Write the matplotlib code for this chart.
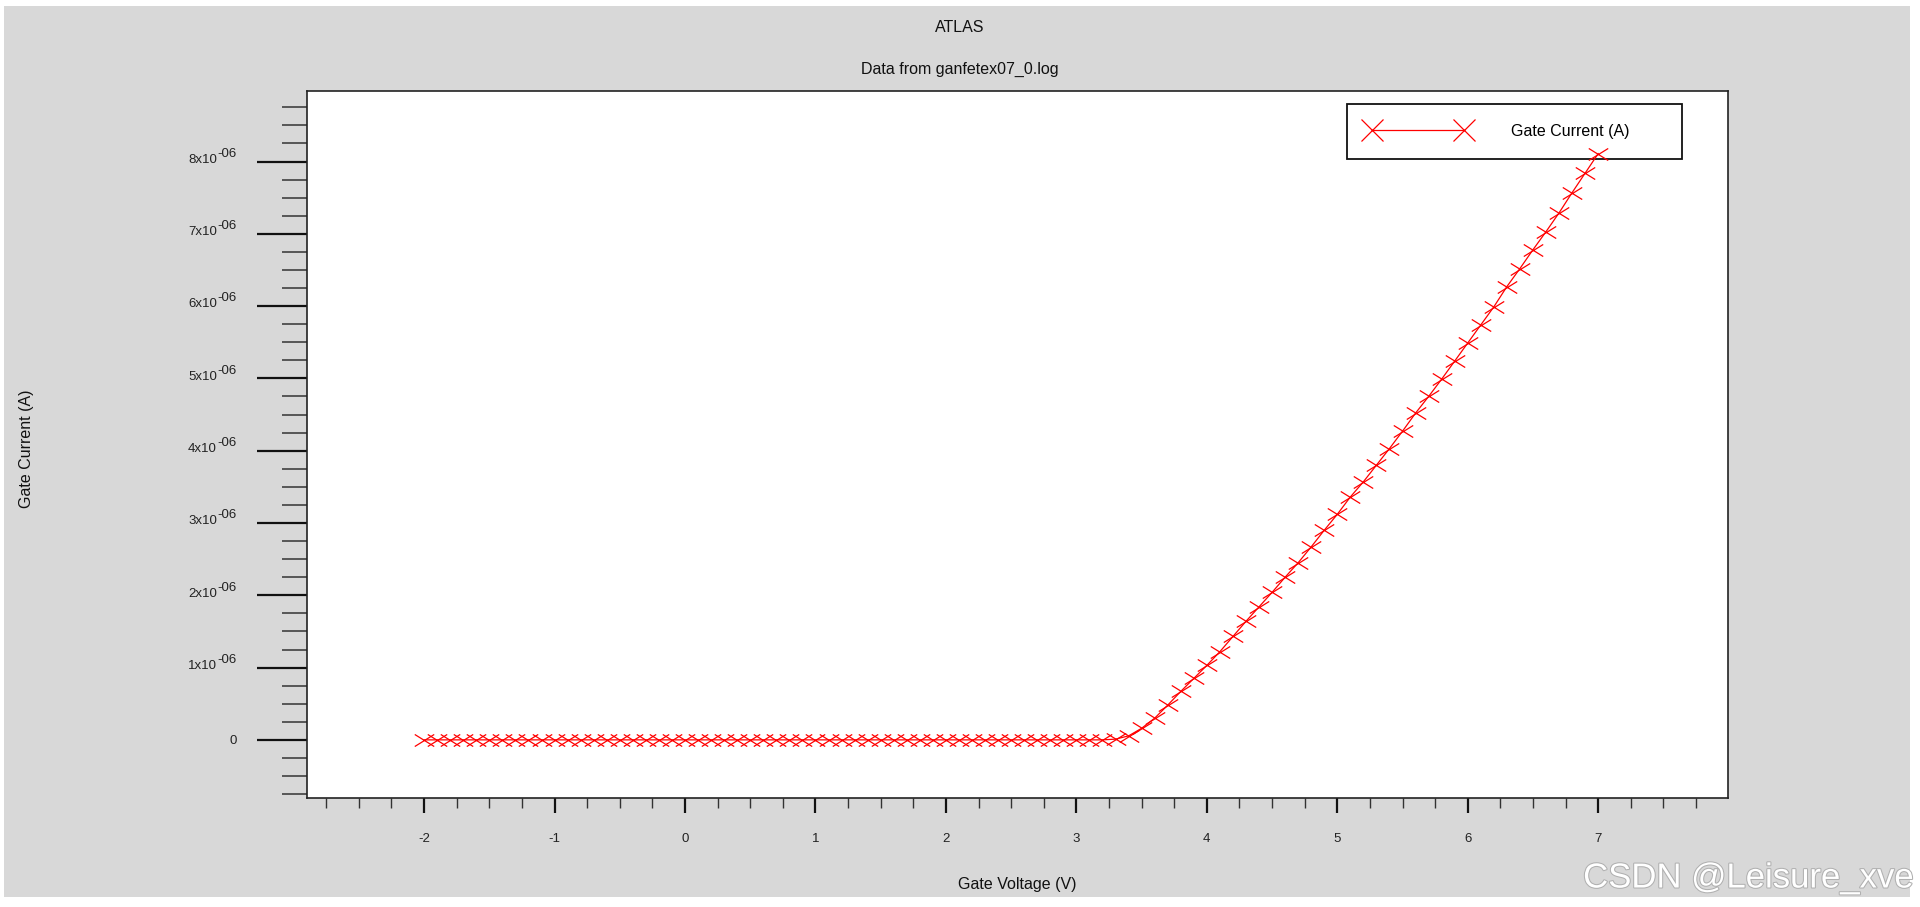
#!/usr/bin/env python

import numpy as np
import matplotlib
matplotlib.use("Agg")
import matplotlib.pyplot as plt
from matplotlib.path import Path
from matplotlib.lines import Line2D
from matplotlib.patches import Rectangle
from matplotlib.ticker import MultipleLocator, NullFormatter
import matplotlib.patheffects as pe

plt.rcParams['font.family'] = ['Liberation Sans', 'DejaVu Sans']
plt.rcParams['axes.unicode_minus'] = False

### gate sweep (V) and gate current (uA)
vg = np.round(np.linspace(-2.0, 7.0, 91), 1)
ig_ua = [
    0.0, 0.0, 0.0, 0.0, 0.0, 0.0, 0.0, 0.0, 0.0, 0.0,   # -2.0 .. -1.1
    0.0, 0.0, 0.0, 0.0, 0.0, 0.0, 0.0, 0.0, 0.0, 0.0,   # -1.0 .. -0.1
    0.0, 0.0, 0.0, 0.0, 0.0, 0.0, 0.0, 0.0, 0.0, 0.0,   #  0.0 ..  0.9
    0.0, 0.0, 0.0, 0.0, 0.0, 0.0, 0.0, 0.0, 0.0, 0.0,   #  1.0 ..  1.9
    0.0, 0.0, 0.0, 0.0, 0.0, 0.0, 0.0, 0.0, 0.0, 0.0,   #  2.0 ..  2.9
    0.0, 0.0, 0.0, 0.01, 0.055, 0.16, 0.30, 0.48, 0.67, 0.85,   # 3.0 .. 3.9
    1.03, 1.22, 1.43, 1.64, 1.84, 2.04, 2.25, 2.45, 2.67, 2.90,  # 4.0 .. 4.9
    3.12, 3.36, 3.57, 3.80, 4.03, 4.27, 4.52, 4.75, 4.99, 5.24,  # 5.0 .. 5.9
    5.49, 5.74, 5.99, 6.27, 6.52, 6.78, 7.03, 7.29, 7.57, 7.84,  # 6.0 .. 6.9
    8.11,                                                        # 7.0
]
ig = np.array(ig_ua) * 1e-6

ytick_mant = [0, 1, 2, 3, 4, 5, 6, 7, 8]   # x 1e-06
title = "ATLAS"
subtitle = "Data from ganfetex07_0.log"
xlabel = "Gate Voltage (V)"
ylabel = "Gate Current (A)"
label = "Gate Current (A)"

W, H = 1920, 907
fig = plt.figure(figsize=(W/100., H/100.), dpi=100, facecolor='white')
### grey panel
fig.patches.append(Rectangle((4./W, 10./H), (1910.-4.)/W, (H-16.)/H,
                             transform=fig.transFigure, facecolor='#d8d8d8',
                             edgecolor='none', zorder=-10))

ax = fig.add_axes([306.7/W, 1-797.7/H, (1728-306.7)/W, (797.7-90.7)/H])
ax.set_facecolor('white')

### wide flat X marker like the ATLAS one
xmark = Path([(-1, -0.62), (1, 0.62), (-1, 0.62), (1, -0.62)],
             [Path.MOVETO, Path.LINETO, Path.MOVETO, Path.LINETO])

ax.plot(vg, ig, color='red', lw=0.9, marker=xmark, ms=14.0, mew=0.9,
        mec='red', clip_on=False, zorder=6)

ax.set_xlim(-2.9, 7.995)
ax.set_ylim(-0.8e-6, 8.98e-6)

ax.xaxis.set_major_locator(MultipleLocator(1))
ax.xaxis.set_minor_locator(MultipleLocator(0.25))
ax.set_yticks([m*1e-6 for m in ytick_mant])
ax.yaxis.set_minor_locator(MultipleLocator(0.25e-6))
ax.yaxis.set_major_formatter(NullFormatter())

### y labels like "8x10^-06" with a full size exponent
ytr = ax.get_yaxis_transform()
for m in ytick_mant:
    if m == 0:
        ax.annotate("0", xy=(0, 0), xycoords=ytr, xytext=(-50.2, -1.0),
                    textcoords='offset points', ha='right', va='center',
                    fontsize=9.5, color='#222222')
        continue
    ax.annotate("%dx10" % m, xy=(0, m*1e-6), xycoords=ytr, xytext=(-64.6, 1.2),
                textcoords='offset points', ha='right', va='center',
                fontsize=9.5, color='#222222')
    ax.annotate("-06", xy=(0, m*1e-6), xycoords=ytr, xytext=(-50.2, 5.6),
                textcoords='offset points', ha='right', va='center',
                fontsize=9.5, color='#222222')

ax.tick_params(axis='y', which='major', direction='out', length=36, width=1.6,
               color='#111111')
ax.tick_params(axis='y', which='minor', direction='out', length=18, width=1.1,
               color='#333333')
ax.tick_params(axis='x', which='major', direction='out', length=11, width=1.6,
               color='#111111', pad=14.5, labelsize=9.5, labelcolor='#222222')
ax.tick_params(axis='x', which='minor', direction='out', length=7, width=1.0,
               color='#333333')

for s in ax.spines.values():
    s.set_linewidth(1.2)
    s.set_color('#222222')

fig.text(960./W, 1-28./H, title, ha='center', va='center', fontsize=11.5, color='#111111')
fig.text(960./W, 1-69.5/H, subtitle, ha='center', va='center', fontsize=11.5, color='#111111')
fig.text(1017./W, 1-884./H, xlabel, ha='center', va='center', fontsize=11.5, color='#111111')
fig.text(26./W, 1-449./H, ylabel, ha='center', va='center', rotation=90,
         fontsize=11.5, color='#111111')

### legend with square X markers at both ends
proxy = Line2D([], [], color='red', lw=0.9, marker='x', ms=16, mew=0.9)
leg = ax.legend([proxy], [label], loc='center', mode='expand',
                bbox_to_anchor=(0.732, 0.904, 0.2355, 0.0767),
                numpoints=2, handlelength=6.4, handletextpad=2.64,
                borderpad=1.25, borderaxespad=0, fontsize=11.5,
                fancybox=False, framealpha=1, edgecolor='#111111')
leg.get_frame().set_linewidth(1.3)
leg.set_zorder(5)

### watermark
fig.text(0.997, 1-878./H, "CSDN @Leisure_xve", ha='right', va='center',
         fontsize=25, color='white',
         path_effects=[pe.withStroke(linewidth=1.5, foreground='#b0b0b0')])

fig.savefig("out.png", dpi=100, facecolor=fig.get_facecolor())
